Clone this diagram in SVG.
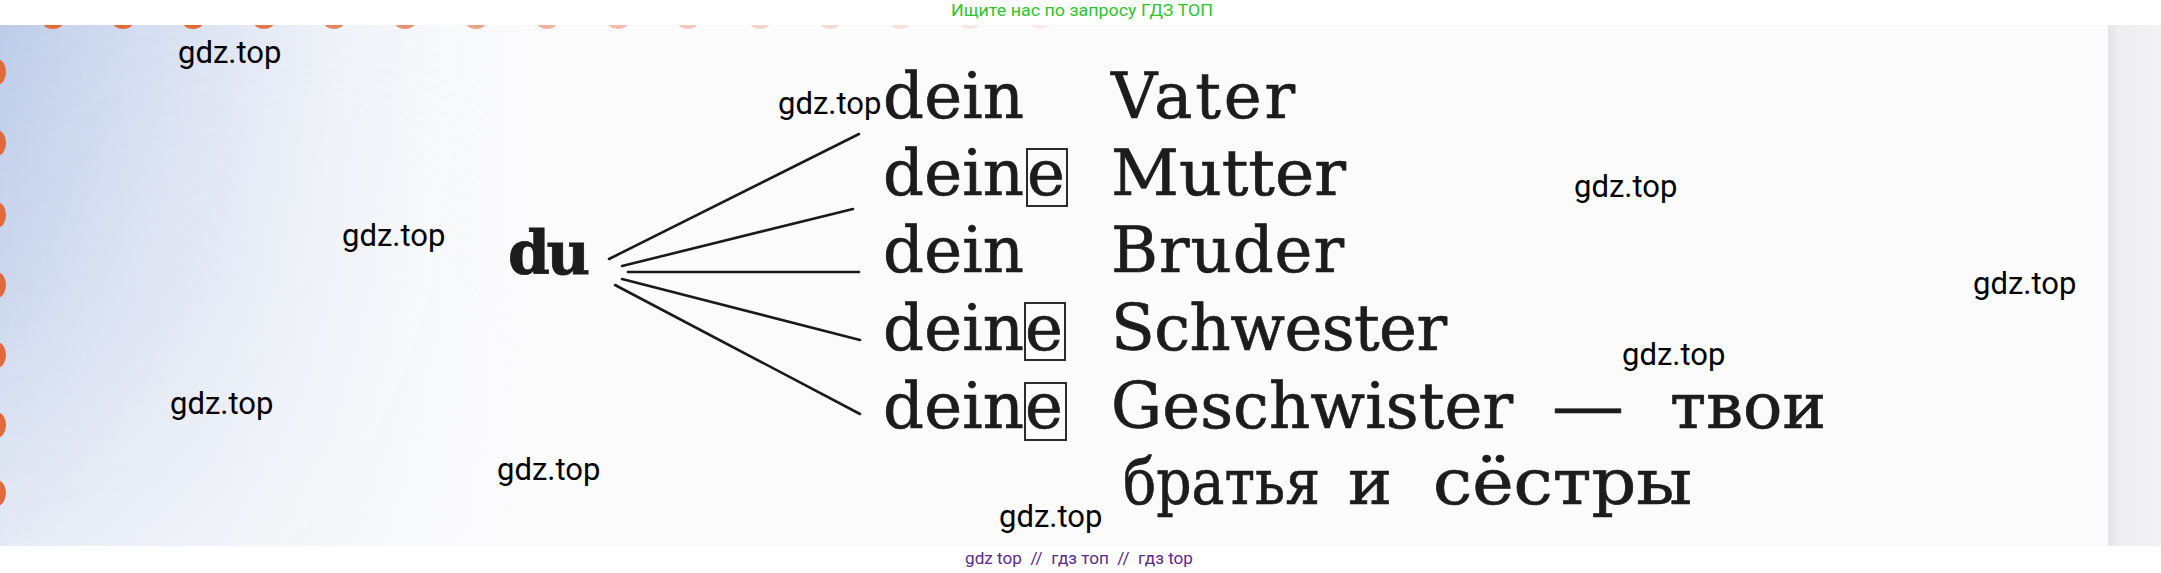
<svg xmlns="http://www.w3.org/2000/svg" width="2161" height="573" viewBox="0 0 2161 573">
<defs>
<linearGradient id="bluel" x1="0" y1="0" x2="1" y2="0">
<stop offset="0" stop-color="#bccbe8" stop-opacity="1"/>
<stop offset="0.4" stop-color="#d3dcf0" stop-opacity="0.7"/>
<stop offset="1" stop-color="#fafbfd" stop-opacity="0"/>
</linearGradient>
<linearGradient id="fadev" x1="0" y1="0" x2="0" y2="1">
<stop offset="0" stop-color="#fff" stop-opacity="1"/>
<stop offset="0.5" stop-color="#fff" stop-opacity="0.75"/>
<stop offset="1" stop-color="#fff" stop-opacity="0.35"/>
</linearGradient>
<mask id="vmask">
<rect x="0" y="25" width="560" height="521" fill="url(#fadev)"/>
</mask>
<linearGradient id="edge" x1="0" y1="0" x2="1" y2="0">
<stop offset="0" stop-color="#e4e4e7"/>
<stop offset="0.2" stop-color="#eeeef0"/>
<stop offset="1" stop-color="#f2f2f4"/>
</linearGradient>
<style>
.serif{font-family:"DejaVu Serif","Liberation Serif",serif;font-size:64px;fill:#1c1c1c;stroke:#1c1c1c;stroke-width:0.7}
.bold{font-family:"DejaVu Serif","Liberation Serif",serif;font-size:60px;font-weight:bold;fill:#1c1c1c}
.wm{font-family:Roboto,"Liberation Sans",sans-serif;font-size:31px;fill:#000}
.conn{stroke:#1a1a1a;stroke-width:2.6;fill:none;stroke-linecap:round}
.box{stroke:#222;stroke-width:1.9;fill:none}
.dot{fill:#e06a3c}
</style>
</defs>
<rect x="0" y="0" width="2161" height="573" fill="#ffffff"/>
<g id="photo">
<rect x="0" y="25" width="2108" height="521" fill="#fbfbfc"/>
<rect x="0" y="25" width="560" height="521" fill="url(#bluel)" mask="url(#vmask)"/>
<rect x="2108" y="25" width="53" height="521" fill="url(#edge)"/>
<g id="top-dots">
<ellipse class="dot" cx="53" cy="23" rx="10" ry="6"/>
<ellipse class="dot" cx="123" cy="23" rx="10" ry="6"/>
<ellipse class="dot" cx="193" cy="23" rx="10" ry="6"/>
<ellipse class="dot" cx="264" cy="23" rx="10" ry="6" opacity="0.9"/>
<ellipse class="dot" cx="334" cy="23" rx="10" ry="6" opacity="0.8"/>
<ellipse class="dot" cx="405" cy="23" rx="10" ry="6" opacity="0.7"/>
<ellipse class="dot" cx="476" cy="23" rx="10" ry="6" opacity="0.6"/>
<ellipse class="dot" cx="547" cy="23" rx="10" ry="6" opacity="0.5"/>
<ellipse class="dot" cx="618" cy="23" rx="10" ry="6" opacity="0.42"/>
<ellipse class="dot" cx="688" cy="23" rx="10" ry="6" opacity="0.35"/>
<ellipse class="dot" cx="760" cy="23" rx="10" ry="6" opacity="0.28"/>
<ellipse class="dot" cx="830" cy="23" rx="10" ry="6" opacity="0.22"/>
<ellipse class="dot" cx="900" cy="23" rx="10" ry="6" opacity="0.17"/>
<ellipse class="dot" cx="970" cy="23" rx="10" ry="6" opacity="0.13"/>
<ellipse class="dot" cx="1040" cy="23" rx="10" ry="6" opacity="0.1"/>
</g>
<g id="left-dots">
<ellipse class="dot" cx="-3" cy="72" rx="9" ry="13"/>
<ellipse class="dot" cx="-3" cy="143" rx="9" ry="13"/>
<ellipse class="dot" cx="-3" cy="215" rx="9" ry="13"/>
<ellipse class="dot" cx="-3" cy="285" rx="9" ry="13"/>
<ellipse class="dot" cx="-3" cy="355" rx="9" ry="13"/>
<ellipse class="dot" cx="-3" cy="425" rx="9" ry="13"/>
<ellipse class="dot" cx="-3" cy="493" rx="9" ry="13"/>
</g>
</g>
<rect x="0" y="0" width="2161" height="25" fill="#ffffff"/>
<rect x="0" y="546" width="2161" height="27" fill="#ffffff"/>
<text x="1082" y="16" text-anchor="middle" font-family="Roboto,'Liberation Sans',sans-serif" font-size="17" fill="#2ec42e" textLength="262" lengthAdjust="spacingAndGlyphs">Ищите нас по запросу ГДЗ ТОП</text>
<g id="connectors">
<line class="conn" x1="609" y1="259" x2="859" y2="134"/>
<line class="conn" x1="622" y1="266" x2="853" y2="209"/>
<line class="conn" x1="628" y1="272" x2="859" y2="272"/>
<line class="conn" x1="622" y1="279" x2="860" y2="340"/>
<line class="conn" x1="615" y1="285" x2="860" y2="414"/>
</g>
<g id="node-du">
<text class="bold" x="508" y="274" textLength="82" stroke="#1c1c1c" stroke-width="0.8">du</text>
</g>
<g id="node-vater">
<text class="serif" x="883" y="118" textLength="141">dein</text>
<text class="serif" x="1111" y="118" textLength="184">Vater</text>
</g>
<g id="node-mutter">
<text class="serif" x="883" y="195" textLength="141">dein</text>
<text class="serif" x="1027" y="195">e</text>
<rect class="box" x="1027" y="149" width="40" height="57"/>
<text class="serif" x="1111" y="195" textLength="235" lengthAdjust="spacingAndGlyphs">Mutter</text>
</g>
<g id="node-bruder">
<text class="serif" x="883" y="272" textLength="141">dein</text>
<text class="serif" x="1111" y="272" textLength="233">Bruder</text>
</g>
<g id="node-schwester">
<text class="serif" x="883" y="350" textLength="141">dein</text>
<text class="serif" x="1025" y="350">e</text>
<rect class="box" x="1025" y="303" width="40" height="57"/>
<text class="serif" x="1111" y="350" textLength="336">Schwester</text>
</g>
<g id="node-geschwister">
<text class="serif" x="883" y="428" textLength="141">dein</text>
<text class="serif" x="1025" y="428">e</text>
<rect class="box" x="1025" y="383" width="41" height="57"/>
<text class="serif" x="1111" y="428" textLength="402">Geschwister</text>
<text class="serif" x="1552" y="428" textLength="72" lengthAdjust="spacingAndGlyphs" stroke-width="0">—</text>
<text class="serif" x="1670" y="428" textLength="156" lengthAdjust="spacingAndGlyphs">твои</text>
<text class="serif" x="1123" y="504" textLength="197" lengthAdjust="spacingAndGlyphs">братья</text>
<text class="serif" x="1348" y="504" textLength="44" lengthAdjust="spacingAndGlyphs">и</text>
<text class="serif" x="1433" y="504" textLength="259" lengthAdjust="spacingAndGlyphs">сёстры</text>
</g>
<g id="watermarks">
<text class="wm" x="178" y="63">gdz.top</text>
<text class="wm" x="778" y="114">gdz.top</text>
<text class="wm" x="1574" y="197">gdz.top</text>
<text class="wm" x="342" y="246">gdz.top</text>
<text class="wm" x="1973" y="294">gdz.top</text>
<text class="wm" x="1622" y="365">gdz.top</text>
<text class="wm" x="170" y="414">gdz.top</text>
<text class="wm" x="497" y="480">gdz.top</text>
<text class="wm" x="999" y="527">gdz.top</text>
</g>
<text x="965" y="564" font-family="Roboto,'Liberation Sans',sans-serif" font-size="17" fill="#5a2a8c" textLength="228" lengthAdjust="spacingAndGlyphs" xml:space="preserve">gdz top  //  гдз топ  //  гдз top</text>
</svg>
